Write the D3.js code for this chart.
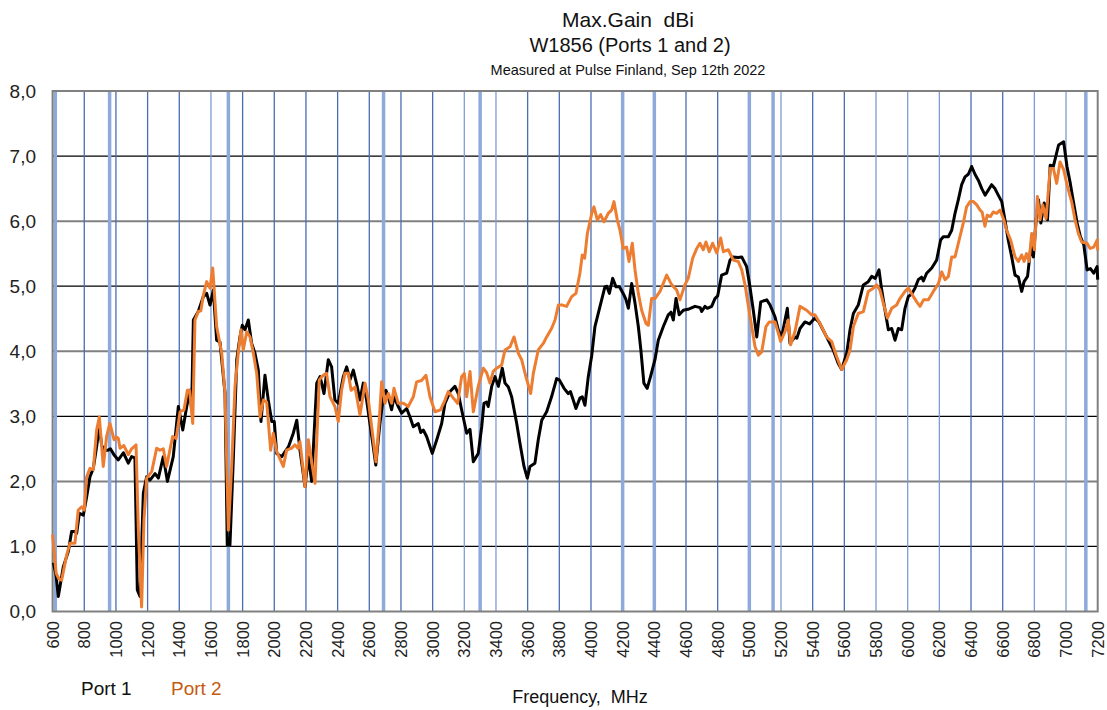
<!DOCTYPE html>
<html>
<head>
<meta charset="utf-8">
<script src="https://cdn.jsdelivr.net/npm/d3@7"></script>
<style>
  html, body { margin: 0; padding: 0; background: #fff; }
  svg { display: block; }
  text { font-family: "Liberation Sans", Arial, sans-serif; }
</style>
</head>
<body>
<div id="chart"></div>
<script>
// Port 1 (black) readings, MHz / dBi
const port1Freq = [605, 622, 636, 668, 699, 720, 741, 752, 769, 794, 815, 836, 857, 878, 895, 910, 931, 950, 965, 990, 1015, 1047, 1078, 1099, 1120, 1135, 1152, 1173, 1194, 1215, 1247, 1268, 1299, 1325, 1362, 1394, 1422, 1447, 1468, 1478, 1489, 1520, 1552, 1573, 1594, 1615, 1636, 1657, 1689, 1703, 1720, 1741, 1763, 1783, 1798, 1815, 1836, 1857, 1878, 1899, 1916, 1941, 1962, 1984, 2000, 2015, 2047, 2089, 2120, 2142, 2162, 2194, 2215, 2236, 2268, 2289, 2314, 2341, 2362, 2383, 2404, 2436, 2457, 2478, 2499, 2520, 2541, 2562, 2583, 2604, 2625, 2641, 2667, 2689, 2705, 2720, 2741, 2756, 2783, 2804, 2836, 2857, 2878, 2909, 2925, 2941, 2962, 2998, 3026, 3057, 3078, 3110, 3141, 3162, 3183, 3215, 3236, 3257, 3288, 3310, 3324, 3340, 3351, 3373, 3394, 3415, 3440, 3457, 3478, 3499, 3531, 3552, 3577, 3598, 3615, 3646, 3667, 3689, 3720, 3751, 3783, 3800, 3830, 3856, 3870, 3888, 3905, 3930, 3945, 3962, 3983, 4005, 4025, 4057, 4088, 4100, 4116, 4137, 4158, 4180, 4209, 4220, 4236, 4257, 4278, 4299, 4315, 4334, 4355, 4376, 4404, 4425, 4457, 4488, 4505, 4520, 4537, 4557, 4583, 4620, 4657, 4690, 4699, 4720, 4735, 4762, 4783, 4800, 4825, 4857, 4878, 4895, 4930, 4952, 4983, 5004, 5025, 5047, 5072, 5110, 5131, 5162, 5183, 5204, 5240, 5257, 5288, 5300, 5320, 5351, 5380, 5414, 5440, 5488, 5530, 5562, 5583, 5615, 5636, 5657, 5688, 5720, 5751, 5773, 5795, 5819, 5836, 5857, 5878, 5899, 5920, 5941, 5962, 5983, 6004, 6025, 6046, 6067, 6088, 6099, 6120, 6152, 6183, 6208, 6225, 6257, 6278, 6299, 6320, 6341, 6362, 6383, 6404, 6425, 6446, 6468, 6489, 6510, 6530, 6551, 6572, 6594, 6614, 6635, 6657, 6678, 6699, 6720, 6735, 6757, 6778, 6794, 6811, 6826, 6841, 6862, 6883, 6900, 6920, 6953, 6985, 7006, 7027, 7048, 7070, 7091, 7112, 7133, 7154, 7175, 7196, 7200];
const port1Gain = [0.75, 0.55, 0.23, 0.69, 0.92, 1.23, 1.23, 1.2, 1.51, 1.48, 1.76, 2.07, 2.2, 2.53, 2.85, 2.55, 2.48, 2.48, 2.5, 2.4, 2.33, 2.44, 2.28, 2.38, 2.36, 0.33, 0.23, 1.82, 2.07, 2.02, 2.12, 2.05, 2.38, 2.0, 2.38, 3.15, 2.79, 3.15, 3.4, 3.1, 4.48, 4.61, 4.84, 4.89, 4.71, 4.94, 4.17, 4.14, 3.35, 1.02, 1.02, 2.33, 3.87, 4.22, 4.4, 4.33, 4.48, 4.12, 3.97, 3.71, 2.92, 3.63, 3.25, 2.92, 2.92, 2.43, 2.38, 2.53, 2.74, 2.94, 2.48, 1.92, 2.38, 2.0, 3.51, 3.61, 3.35, 3.87, 3.76, 3.25, 3.2, 3.61, 3.76, 3.56, 3.71, 3.5, 3.25, 3.51, 3.25, 2.89, 2.53, 2.25, 2.89, 3.3, 3.4, 3.3, 3.1, 3.3, 3.15, 3.05, 3.12, 2.99, 2.84, 2.89, 2.75, 2.79, 2.69, 2.43, 2.64, 2.89, 3.2, 3.38, 3.46, 3.35, 3.1, 2.74, 2.8, 2.3, 2.43, 2.84, 3.2, 3.22, 3.15, 3.46, 3.61, 3.46, 3.74, 3.51, 3.45, 3.3, 2.89, 2.58, 2.23, 2.05, 2.23, 2.28, 2.64, 2.94, 3.07, 3.3, 3.58, 3.56, 3.43, 3.35, 3.38, 3.25, 3.12, 3.28, 3.3, 3.17, 3.61, 3.94, 4.38, 4.69, 4.99, 5.0, 4.89, 5.12, 4.99, 4.99, 4.86, 4.8, 4.66, 5.04, 4.74, 4.38, 4.02, 3.51, 3.43, 3.61, 3.87, 4.17, 4.38, 4.56, 4.6, 4.48, 4.81, 4.56, 4.63, 4.65, 4.69, 4.67, 4.61, 4.69, 4.66, 4.69, 4.81, 4.85, 5.17, 5.2, 5.4, 5.45, 5.44, 5.45, 5.3, 4.99, 4.63, 4.22, 4.76, 4.79, 4.71, 4.53, 4.33, 4.22, 4.66, 4.12, 4.22, 4.2, 4.35, 4.45, 4.42, 4.51, 4.45, 4.22, 4.02, 3.81, 3.72, 3.97, 4.33, 4.58, 4.71, 5.02, 5.07, 5.15, 5.12, 5.25, 4.94, 4.63, 4.33, 4.35, 4.17, 4.35, 4.33, 4.66, 4.84, 4.88, 4.97, 5.1, 5.14, 5.08, 5.2, 5.28, 5.4, 5.71, 5.76, 5.76, 5.86, 6.12, 6.33, 6.56, 6.68, 6.72, 6.84, 6.72, 6.63, 6.5, 6.4, 6.48, 6.56, 6.5, 6.4, 6.3, 6.02, 5.71, 5.45, 5.17, 5.14, 4.92, 5.07, 5.15, 5.61, 5.45, 6.02, 6.33, 5.97, 6.28, 6.02, 6.86, 6.84, 7.17, 7.22, 6.84, 6.58, 6.28, 5.97, 5.76, 5.64, 5.25, 5.27, 5.2, 5.3, 5.1];

// Port 2 (orange) readings, MHz / dBi
const port2Freq = [600, 622, 640, 657, 689, 710, 741, 762, 784, 800, 815, 836, 857, 878, 895, 920, 941, 962, 988, 1005, 1015, 1026, 1050, 1078, 1099, 1127, 1141, 1162, 1177, 1194, 1226, 1257, 1278, 1299, 1320, 1358, 1380, 1405, 1430, 1451, 1465, 1485, 1499, 1520, 1536, 1552, 1573, 1594, 1611, 1636, 1668, 1689, 1710, 1731, 1752, 1773, 1790, 1804, 1826, 1847, 1868, 1889, 1910, 1931, 1952, 1977, 1994, 2015, 2057, 2078, 2110, 2131, 2150, 2162, 2194, 2215, 2257, 2284, 2309, 2330, 2352, 2383, 2404, 2425, 2446, 2467, 2485, 2510, 2541, 2573, 2594, 2615, 2642, 2663, 2678, 2699, 2720, 2741, 2756, 2783, 2815, 2846, 2878, 2899, 2930, 2958, 2983, 3015, 3050, 3078, 3099, 3131, 3158, 3183, 3200, 3215, 3236, 3257, 3288, 3320, 3341, 3362, 3383, 3404, 3436, 3457, 3489, 3514, 3541, 3562, 3589, 3619, 3636, 3667, 3699, 3720, 3751, 3773, 3794, 3820, 3846, 3878, 3905, 3930, 3945, 3960, 3977, 4005, 4019, 4040, 4061, 4082, 4109, 4130, 4145, 4166, 4183, 4204, 4225, 4240, 4261, 4278, 4299, 4320, 4347, 4362, 4383, 4404, 4436, 4478, 4510, 4541, 4562, 4593, 4614, 4642, 4668, 4688, 4709, 4726, 4747, 4768, 4794, 4819, 4836, 4867, 4899, 4930, 4952, 4973, 4994, 5015, 5036, 5057, 5078, 5105, 5126, 5162, 5183, 5198, 5225, 5246, 5261, 5288, 5320, 5362, 5393, 5414, 5446, 5488, 5520, 5551, 5583, 5615, 5636, 5657, 5688, 5720, 5751, 5783, 5804, 5825, 5846, 5872, 5899, 5930, 5951, 5983, 6004, 6036, 6057, 6078, 6100, 6131, 6162, 6194, 6215, 6236, 6257, 6278, 6299, 6325, 6351, 6372, 6394, 6415, 6436, 6457, 6470, 6488, 6502, 6523, 6540, 6562, 6583, 6604, 6625, 6650, 6678, 6699, 6720, 6735, 6750, 6767, 6783, 6800, 6819, 6836, 6853, 6874, 6900, 6920, 6941, 6962, 6985, 7006, 7037, 7057, 7078, 7099, 7133, 7152, 7175, 7197, 7200];
const port2Gain = [1.18, 0.59, 0.5, 0.48, 0.87, 1.05, 1.05, 1.56, 1.61, 1.56, 2.07, 2.2, 2.18, 2.79, 2.99, 2.23, 2.69, 2.89, 2.64, 2.68, 2.66, 2.51, 2.55, 2.41, 2.5, 2.56, 1.3, 0.07, 1.41, 2.05, 2.15, 2.51, 2.48, 2.5, 2.23, 2.69, 2.66, 3.07, 3.1, 3.4, 3.4, 2.89, 4.48, 4.61, 4.62, 4.86, 5.07, 4.97, 5.28, 4.38, 3.97, 3.35, 1.25, 2.23, 3.46, 3.99, 4.33, 4.02, 4.3, 4.22, 3.97, 3.66, 2.99, 3.25, 3.22, 2.48, 2.74, 2.46, 2.23, 2.48, 2.51, 2.56, 2.51, 2.61, 1.92, 2.64, 1.97, 3.56, 3.63, 3.66, 3.3, 3.15, 2.92, 3.4, 3.66, 3.66, 3.4, 3.45, 3.02, 3.51, 3.25, 2.84, 2.3, 2.94, 3.53, 3.2, 3.35, 3.2, 3.43, 3.2, 3.2, 3.15, 3.3, 3.53, 3.55, 3.63, 3.3, 3.07, 3.1, 3.25, 3.38, 3.28, 3.2, 3.61, 3.66, 3.3, 3.69, 3.07, 3.46, 3.74, 3.67, 3.51, 3.69, 3.74, 3.79, 4.02, 4.07, 4.22, 3.97, 3.87, 3.61, 3.35, 3.66, 4.02, 4.12, 4.22, 4.35, 4.48, 4.71, 4.71, 4.69, 4.84, 4.89, 5.2, 5.48, 5.43, 5.81, 6.12, 6.22, 6.02, 6.1, 5.99, 6.12, 6.17, 6.3, 6.02, 5.86, 5.58, 5.6, 5.38, 5.66, 5.25, 4.89, 4.63, 4.43, 4.4, 4.81, 4.81, 4.92, 5.17, 5.02, 4.94, 4.79, 5.02, 5.12, 5.43, 5.58, 5.66, 5.56, 5.68, 5.53, 5.66, 5.51, 5.74, 5.53, 5.56, 5.4, 5.38, 5.25, 5.02, 4.69, 4.38, 4.07, 3.94, 3.99, 4.38, 4.45, 4.45, 4.28, 4.15, 4.3, 4.48, 4.1, 4.3, 4.69, 4.63, 4.56, 4.56, 4.43, 4.22, 4.15, 3.92, 3.72, 3.87, 4.02, 4.38, 4.58, 4.61, 4.92, 4.97, 5.02, 4.94, 4.74, 4.51, 4.66, 4.71, 4.81, 4.92, 4.97, 4.84, 4.76, 4.69, 4.79, 4.79, 4.92, 5.04, 5.22, 5.1, 5.15, 5.45, 5.45, 5.71, 5.97, 6.22, 6.3, 6.3, 6.25, 6.17, 6.14, 5.92, 6.09, 6.07, 6.14, 6.12, 6.17, 6.04, 5.86, 5.71, 5.45, 5.38, 5.48, 5.38, 5.5, 5.38, 5.81, 5.56, 6.38, 6.02, 6.25, 6.04, 6.81, 6.81, 6.58, 6.91, 6.79, 6.56, 6.28, 6.02, 5.81, 5.68, 5.66, 5.58, 5.6, 5.71, 5.55];

const freqTicks = d3.range(600, 7201, 200);
const gainTicks = [0, 1, 2, 3, 4, 5, 6, 7, 8];
// band edge markers (thick light-blue lines)
const bandEdges = [617, 960, 1710, 2690, 3300, 4200, 4400, 5000, 5150, 7125];
// grid lines drawn in a lighter shade
const lightGrid = [1600, 3200, 3400, 5200, 5800, 6000, 6200, 6800, 7000];

const titleLines = ["Max.Gain  dBi", "W1856 (Ports 1 and 2)", "Measured at Pulse Finland, Sep 12th 2022"];
const seriesNames = ["Port 1", "Port 2"];

const W = 1107, H = 710;
const plotL = 52.6, plotR = 1097.7, plotT = 91, plotB = 611.5;

const svg = d3.select("#chart").append("svg")
  .attr("width", W)
  .attr("height", H);

const x = d3.scaleLinear().domain([600, 7200]).range([plotL, plotR]);
const y = d3.scaleLinear().domain([0, 8]).range([plotB, plotT]);

// horizontal grid: odd values black, even values grey
svg.append("g")
  .selectAll("line")
  .data(gainTicks.filter(d => d > 0 && d < 8))
  .enter()
  .append("line")
  .attr("x1", plotL).attr("x2", plotR)
  .attr("y1", d => y(d)).attr("y2", d => y(d))
  .attr("stroke", d => d % 2 ? "#000" : "#808080")
  .attr("stroke-width", d => d % 2 ? 1.3 : 2);

// vertical grid every 200 MHz
svg.append("g")
  .selectAll("line")
  .data(freqTicks.filter(d => d > 600 && d < 7200))
  .enter()
  .append("line")
  .attr("x1", d => x(d)).attr("x2", d => x(d))
  .attr("y1", plotT).attr("y2", plotB)
  .attr("stroke", d => lightGrid.includes(d) ? "#7f9dd3" : "#4a6db3")
  .attr("stroke-width", 1.3);

svg.append("g")
  .selectAll("line")
  .data(bandEdges)
  .enter()
  .append("line")
  .attr("x1", d => x(d)).attr("x2", d => x(d))
  .attr("y1", plotT).attr("y2", plotB)
  .attr("stroke", "#8eaadb")
  .attr("stroke-width", 3.5);

// plot border
svg.append("rect")
  .attr("x", plotL).attr("y", plotT)
  .attr("width", plotR - plotL).attr("height", plotB - plotT)
  .attr("fill", "none")
  .attr("stroke", "#808080")
  .attr("stroke-width", 2);

const line = d3.line()
  .x(d => x(d[0]))
  .y(d => y(d[1]));

svg.append("path")
  .datum(d3.zip(port1Freq, port1Gain))
  .attr("d", line)
  .attr("fill", "none")
  .attr("stroke", "#000")
  .attr("stroke-width", 3)
  .attr("stroke-linejoin", "round");

svg.append("path")
  .datum(d3.zip(port2Freq, port2Gain))
  .attr("d", line)
  .attr("fill", "none")
  .attr("stroke", "#ed7d31")
  .attr("stroke-width", 3)
  .attr("stroke-linejoin", "round");

// y tick labels
svg.append("g")
  .selectAll("text")
  .data(gainTicks)
  .enter()
  .append("text")
  .attr("x", 36)
  .attr("y", d => y(d))
  .attr("dy", "0.36em")
  .attr("text-anchor", "end")
  .attr("font-size", 19)
  .attr("fill", "#222")
  .text(d => d3.format(".1f")(d).replace(".", ","));

// x tick labels, rotated
svg.append("g")
  .selectAll("text")
  .data(freqTicks)
  .enter()
  .append("text")
  .attr("transform", d => `translate(${x(d)},621) rotate(-90)`)
  .attr("dy", "0.36em")
  .attr("text-anchor", "end")
  .attr("font-size", 16.5)
  .attr("fill", "#222")
  .text(d => d);

// titles
svg.append("text")
  .attr("x", 628).attr("y", 27)
  .attr("text-anchor", "middle")
  .attr("font-size", 21)
  .attr("fill", "#111")
  .style("white-space", "pre")
  .text(titleLines[0]);

svg.append("text")
  .attr("x", 630).attr("y", 52)
  .attr("text-anchor", "middle")
  .attr("font-size", 20)
  .attr("fill", "#111")
  .text(titleLines[1]);

svg.append("text")
  .attr("x", 628).attr("y", 75)
  .attr("text-anchor", "middle")
  .attr("font-size", 14.5)
  .attr("fill", "#111")
  .text(titleLines[2]);

svg.append("text")
  .attr("x", 580).attr("y", 703)
  .attr("text-anchor", "middle")
  .attr("font-size", 18)
  .attr("fill", "#111")
  .style("white-space", "pre")
  .text("Frequency,  MHz");

// legend text
svg.append("text")
  .attr("x", 81).attr("y", 695)
  .attr("font-family", "Lato, sans-serif")
  .attr("font-size", 19)
  .attr("fill", "#111")
  .text(seriesNames[0]);

svg.append("text")
  .attr("x", 171).attr("y", 695)
  .attr("font-family", "Lato, sans-serif")
  .attr("font-size", 19)
  .attr("fill", "#c55a11")
  .text(seriesNames[1]);
</script>
</body>
</html>
